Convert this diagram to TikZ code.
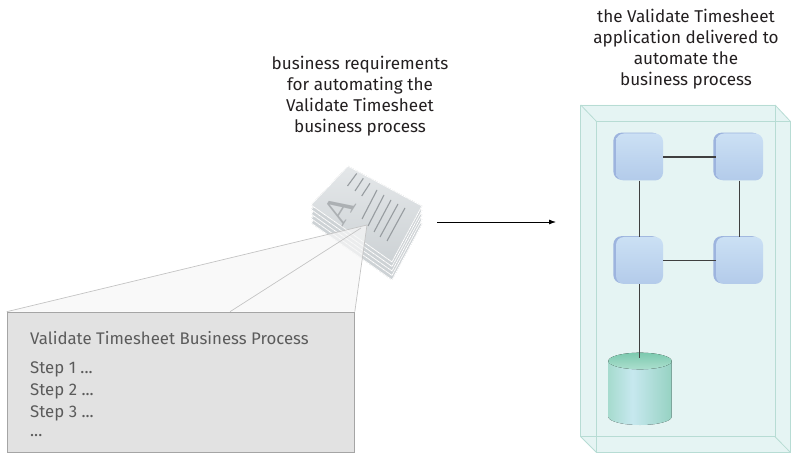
\documentclass[tikz,border=0pt]{standalone}
\usepackage{fontspec}
\setmainfont{Fira Sans}
\newfontfamily\glyphfont{Liberation Serif}
\usetikzlibrary{arrows.meta}

\definecolor{captext}{HTML}{231F20}
\definecolor{boxtext}{HTML}{5B5B5B}
\definecolor{boxfill}{HTML}{E2E2E2}
\definecolor{boxedge}{HTML}{A5A5A5}
\definecolor{projedge}{HTML}{C4C4C4}
\definecolor{pagelight}{HTML}{E4E7E9}
\definecolor{pagedark}{HTML}{CDD2D5}
\definecolor{pageink}{HTML}{979CA0}
\definecolor{cubefill}{HTML}{E5F4F3}
\definecolor{cubeedge}{HTML}{B7DCD4}
\definecolor{comptop}{HTML}{CBE0F4}
\definecolor{compbot}{HTML}{B3CBEA}
\definecolor{compside}{HTML}{9DB4DE}
\definecolor{wire}{HTML}{3F3F3F}
\definecolor{cylA}{HTML}{A6DBCE}
\definecolor{cylB}{HTML}{C7E8EF}
\definecolor{cylC}{HTML}{96D2C2}
\definecolor{cyltopA}{HTML}{7CC9AE}
\definecolor{cyltopB}{HTML}{ACDFCF}

\pgfdeclarehorizontalshading{cylbody}{100bp}{color(0bp)=(cylA); color(25bp)=(cylA); color(44bp)=(cylB); color(75bp)=(cylC); color(100bp)=(cylC)}

\tikzset{
  caption/.style={align=center, text=captext, inner sep=0pt,
    font=\fontsize{17.1}{21}\selectfont},
  procbox/.style={draw=boxedge, line width=0.8pt, fill=boxfill, inner sep=0pt},
  proctext/.style={anchor=base west, inner sep=0pt, text=boxtext,
    font=\fontsize{16.8}{20}\selectfont},
  projline/.style={draw=projedge, line width=0.7pt},
  page/.style={top color=pagelight, bottom color=pagedark, draw=white, line width=0.8pt},
  pageline/.style={draw=pageink, line width=1.1pt},
  cubeline/.style={draw=cubeedge, line width=0.8pt},
  comp/.style={rounded corners=8pt, minimum size=47pt, inner sep=0pt,
    top color=comptop, bottom color=compbot,
    preaction={fill=compside, transform canvas={shift={(-2.6pt,0.8pt)}}}},
  wireline/.style={draw=wire, line width=1.2pt},
  flow/.style={draw=black, line width=0.8pt, -{Latex[length=7pt,width=5pt]}}
}

\begin{document}
\begin{tikzpicture}[x=1pt,y=-1pt]
\useasboundingbox (0,0) rectangle (795,454);

% ---- captions (base anchor sits on the last line) ----
\node[caption, anchor=base] (reqcap) at (360,133)
  {business requirements\\for automating the\\Validate Timesheet\\business process};
\node[caption, anchor=base] (appcap) at (686,86)
  {the Validate Timesheet\\application delivered to\\automate the\\business process};

% ---- stack of requirement pages ----
\foreach \k in {4,3,2,1} {
  \fill[page, top color=pagedark, bottom color=pagedark]
    (348,166+4.5*\k) -- (422,206+4.5*\k) -- (392,262+4.5*\k) -- (311,205+4.5*\k) -- cycle;
}
\fill[page] (348,166) -- (422,206) -- (392,262) -- (311,205) -- cycle;
\node[text=pageink!80, rotate=58, inner sep=0pt,
  font=\fontsize{38}{38}\selectfont\glyphfont] (glyph) at (339,209) {A};
\draw[pageline] (356.7,173.5) -- (347.5,186);
\draw[pageline] (363.3,178.3) -- (355,191);
\draw[pageline] (370,183.3) -- (361.7,196);
\draw[pageline] (377,190) -- (362,219);
\draw[pageline] (384,195) -- (368,226);
\draw[pageline] (391,200) -- (374,232);
\draw[pageline] (398,204) -- (380,237);
\draw[pageline] (405,208) -- (387,241);

% ---- process box and its projection ----
\node[procbox, minimum width=347.3pt, minimum height=140.6pt, anchor=north west]
  (proc) at (6.7,311.7) {};
\coordinate (apex) at (367,225);
\coordinate (apexm) at (361,228);
\coordinate (midtop) at (230,311.7);
\fill[fill=black!3, fill opacity=0.72]
  (proc.north west) -- (apex) -- (proc.north east) -- cycle;
\draw[projline] (proc.north west) -- (apex);
\draw[projline] (midtop) -- (apexm);
\draw[projline] (proc.north east) -- (apex);

\node[proctext] (ptitle) at (30,344.3) {Validate Timesheet Business Process};
\node[proctext] (pstep1) at (30,373.3) {Step 1 ...};
\node[proctext] (pstep2) at (30,395.7) {Step 2 ...};
\node[proctext] (pstep3) at (30,417.7) {Step 3 ...};
\node[proctext] (pmore)  at (30,436.5) {...};

% ---- delivery arrow ----
\coordinate (docright) at (437,222);
\coordinate (appleft) at (556,222);
\draw[flow] (docright) -- (appleft);

% ---- application container ----
\fill[cubefill] (580.7,105) -- (775,105) -- (790.7,121.7) -- (790.7,452.7)
  -- (596.7,452.7) -- (580.7,436.7) -- cycle;
\draw[cubeline] (580.7,105) rectangle (775,436.7);
\draw[cubeline] (596.7,121.7) rectangle (790.7,452.7);
\draw[cubeline] (580.7,105) -- (596.7,121.7);
\draw[cubeline] (775,105) -- (790.7,121.7);
\draw[cubeline] (580.7,436.7) -- (596.7,452.7);
\draw[cubeline] (775,436.7) -- (790.7,452.7);

% ---- components ----
\node[comp] (c1) at (639.5,157) {};
\node[comp] (c2) at (739.5,157) {};
\node[comp] (c3) at (639.5,260.5) {};
\node[comp] (c4) at (739.5,260.5) {};
\coordinate (db) at (639.5,358);

\draw[wireline] (c1) -- (c2);
\draw[wireline] (c1) -- (c3);
\draw[wireline] (c2) -- (c4);
\draw[wireline] (c3) -- (c4);

% ---- database ----
\fill[shading=cylbody] (608.3,361) -- (608.3,416.7)
  arc[start angle=180, end angle=0, x radius=31.7, y radius=8.3]
  -- (671.7,361) -- cycle;
\fill[top color=cyltopA, bottom color=cyltopB] (640,361) ellipse[x radius=31.7, y radius=8.3];
\draw[wireline] (c3) -- (db);

\end{tikzpicture}
\end{document}
